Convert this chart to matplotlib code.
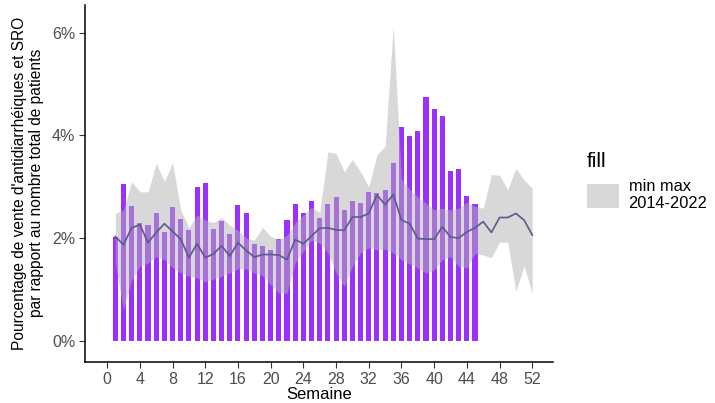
import matplotlib.pyplot as plt
from matplotlib.patches import Patch
from matplotlib.ticker import FuncFormatter

# Données (en %)
semaines_barres = list(range(1, 46))
ventes_2023 = [2.03, 3.05, 2.63, 2.29, 2.25, 2.49, 2.11, 2.61, 2.37, 2.15,
               3.00, 3.08, 2.18, 2.33, 2.07, 2.65, 2.48, 1.88, 1.85, 1.76,
               1.99, 2.35, 2.66, 2.48, 2.72, 2.39, 2.66, 2.80, 2.55, 2.72,
               2.69, 2.90, 2.87, 2.94, 3.46, 4.17, 3.99, 4.09, 4.74, 4.51,
               4.38, 3.31, 3.34, 2.81, 2.67]

semaines = list(range(1, 53))
moyenne = [2.03, 1.87, 2.20, 2.26, 1.91, 2.11, 2.28, 2.13, 1.98, 1.62,
           1.89, 1.62, 1.69, 1.85, 1.65, 1.91, 1.76, 1.63, 1.68, 1.68,
           1.67, 1.58, 1.97, 1.89, 2.04, 2.19, 2.20, 2.16, 2.15, 2.41,
           2.41, 2.48, 2.84, 2.65, 2.85, 2.35, 2.28, 1.99, 1.98, 1.98,
           2.22, 2.02, 2.00, 2.12, 2.20, 2.32, 2.11, 2.40, 2.40, 2.48,
           2.35, 2.06]
maximum = [2.48, 2.55, 3.10, 2.90, 2.90, 3.46, 3.10, 3.47, 2.55, 2.20,
           2.45, 2.35, 2.30, 2.40, 2.25, 2.15, 2.00, 1.96, 2.21, 2.03,
           1.98, 2.05, 2.30, 2.45, 2.60, 2.50, 3.68, 3.65, 3.29, 3.53,
           3.29, 3.00, 3.62, 3.79, 6.13, 3.15, 2.95, 2.80, 2.68, 2.55,
           2.58, 2.55, 2.58, 2.70, 2.62, 2.58, 3.24, 3.22, 2.94, 3.36,
           3.13, 2.97]
minimum = [1.50, 0.60, 1.19, 1.45, 1.51, 1.64, 1.58, 1.43, 1.32, 1.26,
           1.22, 1.15, 1.20, 1.26, 1.32, 1.40, 1.40, 1.32, 1.27, 1.09,
           0.93, 0.93, 1.52, 1.74, 1.96, 1.90, 1.71, 1.32, 1.06, 1.45,
           1.71, 1.81, 1.77, 1.78, 1.71, 1.58, 1.50, 1.42, 1.32, 1.38,
           1.58, 1.64, 1.45, 1.42, 1.70, 1.67, 1.62, 1.92, 1.92, 0.96,
           1.46, 0.92]

plt.rcParams['font.family'] = ['Liberation Sans', 'DejaVu Sans']

fig = plt.figure(figsize=(7.15, 4.03), dpi=100)
ax = fig.add_axes([0.119, 0.102, 0.654, 0.886])

# Barres, ruban min/max puis moyenne
ax.bar(semaines_barres, ventes_2023, width=0.62, color='#9B30FF', zorder=2)
ax.fill_between(semaines, minimum, maximum, color='#B3B3B3', alpha=0.5,
                linewidth=0, zorder=3)
ax.plot(semaines, moyenne, color='#5a5a8c', linewidth=1.2, zorder=4)

ax.set_xlim(-2.7, 54.5)
ax.set_ylim(-0.41, 6.54)
ax.set_xticks(range(0, 53, 4))
ax.set_yticks([0, 2, 4, 6])
ax.yaxis.set_major_formatter(FuncFormatter(lambda v, p: f'{v:.0f}%'))

for side in ['top', 'right']:
    ax.spines[side].set_visible(False)
for side in ['left', 'bottom']:
    ax.spines[side].set_linewidth(1.1)
ax.tick_params(axis='both', length=4, width=0.8, colors='#333333',
               labelcolor='#4D4D4D', labelsize=11.5, pad=3)

ax.set_xlabel('Semaine', fontsize=12, labelpad=0)
ax.set_ylabel("Pourcentage de vente d'antidiarrhéiques et SRO\n"
              "par rapport au nombre total de patients",
              fontsize=11.2, labelpad=6, linespacing=1.15)

# Légende
leg = fig.legend(handles=[Patch(facecolor='#B3B3B3', alpha=0.5,
                                label='min max\n2014-2022')],
                 title='fill', loc='upper left',
                 bbox_to_anchor=(0.8, 0.66), frameon=False,
                 fontsize=11.8, title_fontsize=15,
                 handlelength=1.95, handleheight=1.95, handletextpad=0.6,
                 alignment='left')

fig.savefig('out.png', dpi=100)
